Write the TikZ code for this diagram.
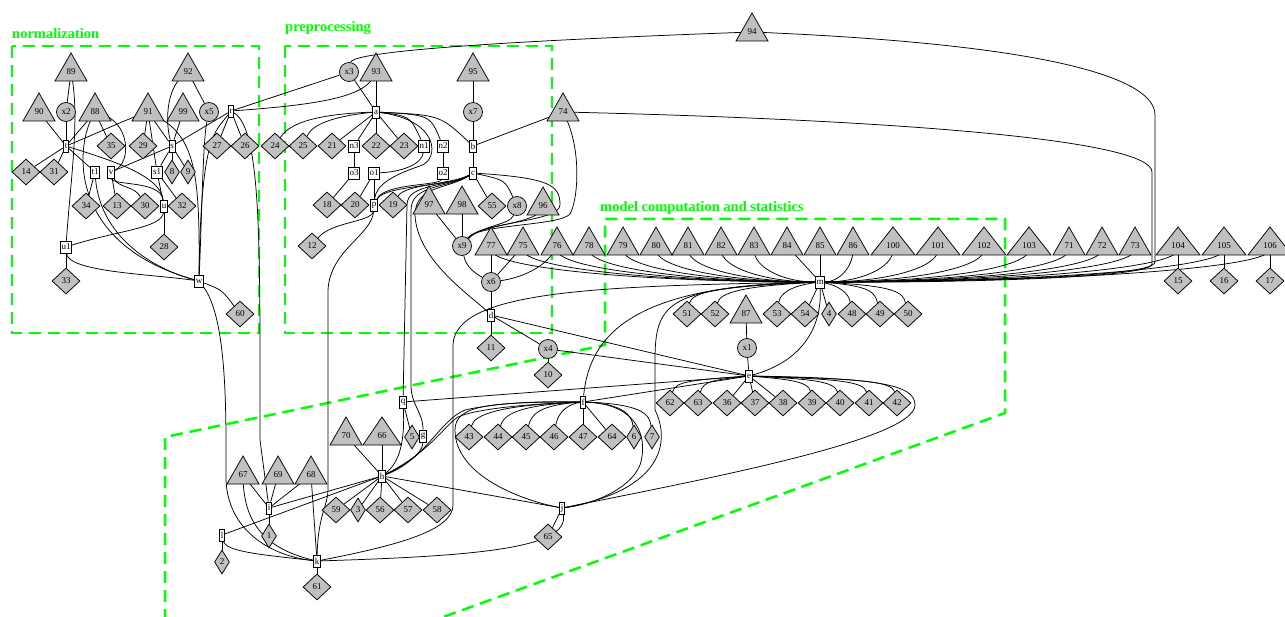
\documentclass[tikz,border=0pt]{standalone}
\usepackage{fontspec}
\setmainfont{Liberation Serif}
\usetikzlibrary{shapes.geometric}
\pgfdeclarelayer{under}
\pgfsetlayers{under,main}
\definecolor{nodegray}{RGB}{192,192,192}
\definecolor{clustergreen}{RGB}{0,255,0}
\newcommand\lblfont{\fontsize{9}{10}\selectfont}
% triangle node: name, x, y, text, half base width
\newcommand\trinode[5]{%
  \filldraw[trishape] (#2-#5,#3+9) -- (#2+#5,#3+9) -- (#2,#3-19) -- cycle;
  \node[lbl] (#1) at (#2,#3) {#4};}
\tikzset{
  trishape/.style={draw=black, fill=nodegray, line width=0.75pt, line join=miter},
  lbl/.style={inner sep=0.5pt, font=\lblfont},
  circ/.style={circle, draw, fill=nodegray, minimum size=19pt, inner sep=0pt, font=\lblfont, line width=0.75pt},
  dia/.style={diamond, draw, fill=nodegray, minimum width=28pt, minimum height=26pt, inner sep=0pt, font=\lblfont, line width=0.75pt},
  ndia/.style={dia, minimum width=15pt, minimum height=24pt},
  rectnode/.style={rectangle, draw, fill=white, minimum height=12pt, minimum width=5pt, inner sep=1.2pt, font=\lblfont, line width=0.75pt},
  conn/.style={draw=black, line width=0.75pt},
  cluster/.style={draw=clustergreen, line width=2.5pt, dash pattern=on 12pt off 7pt},
  cltitle/.style={text=clustergreen, font=\fontsize{14.5}{16}\selectfont\bfseries, anchor=base west, inner sep=0pt},
}
\begin{document}
\begin{tikzpicture}[x=1pt,y=-1pt]
\path[use as bounding box] (0,0) rectangle (1285,617);

% cluster titles
\node[cltitle] (tnorm) at (12,39) {normalization};
\node[cltitle] (tpre) at (285,32) {preprocessing};
\node[cltitle] (tmod) at (600,212) {model computation and statistics};

% ---------- normalization ----------
\trinode{N89}{71}{72}{89}{16}
\trinode{N92}{188}{72}{92}{16}
\trinode{N90}{39}{112}{90}{16}
\trinode{N88}{95}{112}{88}{16}
\trinode{N91}{148}{112}{91}{16}
\trinode{N99}{183}{112}{99}{16}
\node[circ] (x2) at (66,112) {x2};
\node[circ] (x5) at (209,112) {x5};
\node[rectnode] (r) at (231,111) {r};
\node[rectnode] (t) at (66,146) {t};
\node[dia] (N35) at (111,146) {35};
\node[dia] (N29) at (143,146) {29};
\node[rectnode] (s) at (172,146) {s};
\node[dia] (N27) at (217,146) {27};
\node[dia] (N26) at (245,146) {26};
\node[dia] (N24) at (275,146) {24};
\node[dia] (N14) at (26,172) {14};
\node[dia] (N31) at (54,172) {31};
\node[rectnode] (t1) at (95,172) {t1};
\node[rectnode] (v) at (111,172) {v};
\node[rectnode] (s1) at (157,172) {s1};
\node[ndia] (N8) at (172,172) {8};
\node[ndia] (N9) at (188,172) {9};
\node[dia] (N34) at (86,206) {34};
\node[dia] (N13) at (117,206) {13};
\node[dia] (N30) at (145,206) {30};
\node[rectnode] (u) at (164,206) {u};
\node[dia] (N32) at (182,206) {32};
\node[rectnode] (u1) at (66,247) {u1};
\node[dia] (N28) at (164,247) {28};
\node[dia] (N33) at (66,281) {33};
\node[rectnode] (w) at (199,281) {w};
\node[dia] (N60) at (240,314) {60};

% ---------- preprocessing ----------
\node[circ] (x3) at (349,72) {x3};
\trinode{N93}{376}{72}{93}{16}
\trinode{N95}{473}{72}{95}{16}
\node[circ] (x7) at (473,112) {x7};
\trinode{N74}{563}{112}{74}{16}
\node[rectnode] (a) at (376,112) {a};
\node[dia] (N25) at (303,146) {25};
\node[dia] (N21) at (332,146) {21};
\node[rectnode] (n3) at (354,146) {n3};
\node[dia] (N22) at (376,146) {22};
\node[dia] (N23) at (404,146) {23};
\node[rectnode] (n1) at (424,146) {n1};
\node[rectnode] (n2) at (443,146) {n2};
\node[rectnode] (b) at (473,146) {b};
\node[rectnode] (o3) at (354,173) {o3};
\node[rectnode] (o1) at (374,173) {o1};
\node[rectnode] (o2) at (443,173) {o2};
\node[rectnode] (c) at (473,173) {c};
\node[dia] (N18) at (327,205) {18};
\node[dia] (N20) at (355,205) {20};
\node[rectnode] (p) at (374,205) {p};
\node[dia] (N19) at (393,205) {19};
\trinode{N97}{429}{205}{97}{16}
\trinode{N98}{462}{205}{98}{16}
\node[dia] (N55) at (492,206) {55};
\node[circ] (x8) at (517,206) {x8};
\trinode{N96}{543}{206}{96}{16}
\node[dia] (N12) at (312,246) {12};
\node[circ] (x9) at (462,246) {x9};

% ---------- model computation and statistics ----------
\trinode{N94}{752}{32}{94}{16}
\trinode{N77}{491}{246}{77}{16}
\trinode{N75}{523}{246}{75}{16}
\trinode{N76}{557}{246}{76}{16}
\trinode{N78}{589}{246}{78}{16}
\trinode{N79}{623}{246}{79}{16}
\trinode{N80}{656}{246}{80}{16}
\trinode{N81}{688}{246}{81}{16}
\trinode{N82}{721}{246}{82}{16}
\trinode{N83}{754}{246}{83}{16}
\trinode{N84}{787}{246}{84}{16}
\trinode{N85}{820}{246}{85}{16}
\trinode{N86}{853}{246}{86}{16}
\trinode{N100}{893}{246}{100}{22}
\trinode{N101}{938}{246}{101}{22}
\trinode{N102}{984}{246}{102}{22}
\trinode{N103}{1029}{246}{103}{22}
\trinode{N71}{1069}{246}{71}{16}
\trinode{N72}{1102}{246}{72}{16}
\trinode{N73}{1135}{246}{73}{16}
\trinode{N104}{1178}{246}{104}{22}
\trinode{N105}{1224}{246}{105}{22}
\trinode{N106}{1270}{246}{106}{22}
\node[dia] (N15) at (1178,281) {15};
\node[dia] (N16) at (1224,281) {16};
\node[dia] (N17) at (1270,281) {17};
\node[circ] (x6) at (491,282) {x6};
\node[rectnode] (m) at (820,282) {m};
\node[rectnode] (d) at (491,315) {d};
\node[dia] (N11) at (491,348) {11};
\node[circ] (x4) at (548,349) {x4};
\node[dia] (N10) at (548,375) {10};
\node[dia] (N51) at (687,314) {51};
\node[dia] (N52) at (715,314) {52};
\trinode{N87}{746}{314}{87}{16}
\node[dia] (N53) at (777,314) {53};
\node[dia] (N54) at (805,314) {54};
\node[ndia] (N4) at (829,314) {4};
\node[dia] (N48) at (852,314) {48};
\node[dia] (N49) at (880,314) {49};
\node[dia] (N50) at (908,314) {50};
\node[circ] (x1) at (747,348) {x1};
\node[rectnode] (e) at (749,376) {e};
\node[dia] (N62) at (670,403) {62};
\node[dia] (N63) at (698,403) {63};
\node[dia] (N36) at (727,403) {36};
\node[dia] (N37) at (755,403) {37};
\node[dia] (N38) at (783,403) {38};
\node[dia] (N39) at (812,403) {39};
\node[dia] (N40) at (840,403) {40};
\node[dia] (N41) at (869,403) {41};
\node[dia] (N42) at (897,403) {42};
\node[rectnode] (f) at (583,402) {f};
\node[rectnode] (q) at (403,402) {q};
\node[ndia] (N5) at (412,437) {5};
\node[rectnode] (g) at (423,436) {g};
\node[dia] (N43) at (469,437) {43};
\node[dia] (N44) at (498,437) {44};
\node[dia] (N45) at (526,437) {45};
\node[dia] (N46) at (554,437) {46};
\node[dia] (N47) at (583,437) {47};
\node[dia] (N64) at (612,437) {64};
\node[ndia] (N6) at (634,437) {6};
\node[ndia] (N7) at (652,437) {7};
\node[rectnode] (j) at (562,508) {j};
\node[dia] (N65) at (548,537) {65};
\trinode{N70}{346}{436}{70}{16}
\trinode{N66}{382}{436}{66}{19}
\node[rectnode] (h) at (382,476) {h};
\trinode{N67}{243}{475}{67}{16}
\trinode{N69}{278}{475}{69}{16}
\trinode{N68}{311}{475}{68}{16}
\node[dia] (N59) at (336,510) {59};
\node[ndia] (N3) at (358,510) {3};
\node[dia] (N56) at (380,510) {56};
\node[dia] (N57) at (408,510) {57};
\node[dia] (N58) at (437,510) {58};
\node[rectnode] (i) at (269,508) {i};
\node[ndia] (N1) at (269,536) {1};
\node[rectnode] (l) at (222,535) {l};
\node[ndia] (N2) at (222,562) {2};
\node[rectnode] (k) at (317,561) {k};
\node[dia] (N61) at (317,587) {61};

\begin{pgfonlayer}{under}
% cluster frames
\draw[cluster] (12,46) rectangle (259,333);
\draw[cluster] (285,46) rectangle (552,333);
\begin{scope}
\clip (0,0) rectangle (1285,617);
\draw[cluster] (165,640) -- (165,437) -- (605,345) -- (605,219) -- (1005,219) -- (1005,413) -- (380,640);
\end{scope}

% normalization edges
\draw[conn] (N89) -- (x2);
\draw[conn] (N89) .. controls (80,120) and (70,185) .. (u1);
\draw[conn] (N90) -- (t);
\draw[conn] (x2) -- (t);
\draw[conn] (N88) -- (t);
\draw[conn] (N88) -- (N35);
\draw[conn] (N88) .. controls (74,150) and (70,245) .. (w);
\draw[conn] (N88) .. controls (130,122) and (132,162) .. (v);
\draw[conn] (t) -- (N14);
\draw[conn] (t) -- (N31);
\draw[conn] (t) -- (t1);
\draw[conn] (t) .. controls (100,132) and (125,120) .. (N91);
\draw[conn] (t) .. controls (110,160) and (160,175) .. (u);
\draw[conn] (t1) -- (N34);
\draw[conn] (t1) .. controls (100,235) and (150,268) .. (w);
\draw[conn] (N91) -- (N29);
\draw[conn] (N91) -- (s);
\draw[conn] (N91) -- (s1);
\draw[conn] (N91) .. controls (195,135) and (200,170) .. (w);
\draw[conn] (N99) -- (s);
\draw[conn] (N92) .. controls (165,90) and (166,125) .. (s);
\draw[conn] (N92) -- (x5);
\draw[conn] (x5) .. controls (203,140) and (202,210) .. (w);
\draw[conn] (r) .. controls (215,132) and (201,135) .. (w);
\draw[conn] (r) -- (s);
\draw[conn] (r) -- (N27);
\draw[conn] (r) -- (N26);
\draw[conn] (r) .. controls (262,130) and (260,250) .. (260,440) -- (i);
\draw[conn] (s) -- (N8);
\draw[conn] (s) -- (N9);
\draw[conn] (s) -- (v);
\draw[conn] (s) -- (s1);
\draw[conn] (s1) -- (u);
\draw[conn] (s1) -- (N32);
\draw[conn] (v) -- (N13);
\draw[conn] (v) .. controls (118,188) and (135,186) .. (N30);
\draw[conn] (v) .. controls (112,186) and (160,180) .. (u);
\draw[conn] (u) -- (N28);
\draw[conn] (u) .. controls (162,228) and (120,230) .. (u1);
\draw[conn] (u1) -- (N33);
\draw[conn] (u1) .. controls (68,272) and (150,274) .. (w);
\draw[conn] (w) .. controls (222,290) .. (N60);
\draw[conn] (w) .. controls (228,320) and (226,420) .. (226,480) .. controls (228,530) and (270,556) .. (k);

% preprocessing edges
\draw[conn] (x3) .. controls (352,55) and (420,44) .. (N94);
\draw[conn] (N94) .. controls (1060,45) and (1155,80) .. (1155,115) -- (1155,262) .. controls (1155,280) and (900,281) .. (m);
\draw[conn] (N74) .. controls (900,120) and (1152,140) .. (1152,172) -- (1152,264) .. controls (1152,280) and (900,283) .. (m);
\draw[conn] (x3) -- (r);
\draw[conn] (N93) .. controls (365,95) and (330,104) .. (r);
\draw[conn] (x3) -- (a);
\draw[conn] (N93) -- (a);
\draw[conn] (a) .. controls (320,114) and (290,122) .. (N24);
\draw[conn] (a) .. controls (335,116) and (312,124) .. (N25);
\draw[conn] (a) -- (N21);
\draw[conn] (a) -- (n3);
\draw[conn] (a) -- (N22);
\draw[conn] (a) -- (N23);
\draw[conn] (a) .. controls (410,116) .. (n1);
\draw[conn] (a) .. controls (430,115) .. (n2);
\draw[conn] (a) .. controls (440,115) .. (b);
\draw[conn] (a) .. controls (440,120) and (440,160) .. (420,166) .. controls (390,176) and (376,186) .. (p);
\draw[conn] (n1) .. controls (422,165) and (400,172) .. (o1);
\draw[conn] (n3) -- (o3);
\draw[conn] (o3) -- (N18);
\draw[conn] (o1) -- (N20);
\draw[conn] (o1) -- (p);
\draw[conn] (n2) -- (o2);
\draw[conn] (o2) .. controls (440,186) and (385,183) .. (p);
\draw[conn] (c) .. controls (455,186) and (385,185) .. (p);
\draw[conn] (c) .. controls (450,185) and (405,184) .. (N19);
\draw[conn] (c) .. controls (450,187) and (407,183) .. (407,205) -- (q);
\draw[conn] (c) .. controls (450,188) and (411,184) .. (411,210) -- (411,385) .. controls (411,405) and (423,412) .. (g);
\draw[conn] (c) .. controls (450,189) and (415,185) .. (415,215) .. controls (417,260) and (470,295) .. (d);
\draw[conn] (p) .. controls (372,222) and (330,222) .. (N12);
\draw[conn] (p) .. controls (372,235) and (330,250) .. (328,290) -- (328,490) .. controls (328,505) and (318,515) .. (k);
\draw[conn] (N95) -- (x7);
\draw[conn] (x7) -- (b);
\draw[conn] (b) -- (c);
\draw[conn] (b) -- (N74);
\draw[conn] (c) -- (N55);
\draw[conn] (c) .. controls (505,180) .. (x8);
\draw[conn] (c) .. controls (550,178) and (560,185) .. (560,205) .. controls (560,222) and (480,222) .. (x9);
\draw[conn] (N74) .. controls (582,150) and (578,200) .. (570,214) .. controls (560,226) and (478,224) .. (x9);
\draw[conn] (N96) .. controls (535,224) and (478,225) .. (x9);
\draw[conn] (x8) .. controls (510,225) and (480,226) .. (x9);
\draw[conn] (N97) -- (x9);
\draw[conn] (N98) -- (x9);
\draw[conn] (x9) .. controls (466,268) and (478,275) .. (x6);
\draw[conn] (N77) -- (x6);
\draw[conn] (N75) -- (x6);
\draw[conn] (N76) .. controls (545,268) and (520,278) .. (x6);
\draw[conn] (x6) -- (d);
\draw[conn] (d) -- (N11);
\draw[conn] (d) -- (x4);
\draw[conn] (d) -- (e);
\draw[conn] (x4) -- (N10);
\draw[conn] (x4) -- (e);

% model edges
\foreach \n/\k in {77/181,75/163,76/145,78/127,79/108,80/90,81/73,82/54,83/36}
  \draw[conn] (N\n) .. controls +(0,22) and +(-\k,0) .. (m);
\draw[conn] (N84) -- (m);
\draw[conn] (N85) -- (m);
\foreach \n/\k in {86/18,100/40,101/65,102/90,103/115,71/137,72/155,73/173,104/197,105/222,106/247}
  \draw[conn] (N\n) .. controls +(0,22) and +(\k,0) .. (m);
\draw[conn] (N104) -- (N15);
\draw[conn] (N105) -- (N16);
\draw[conn] (N106) -- (N17);
\draw[conn] (m) .. controls +(-100,4) and +(5,-22) .. (N51);
\draw[conn] (m) .. controls +(-75,4) and +(5,-22) .. (N52);
\draw[conn] (m) .. controls +(-30,4) and +(3,-20) .. (N53);
\draw[conn] (m) -- (N54);
\draw[conn] (m) -- (N4);
\draw[conn] (m) .. controls +(20,4) and +(-3,-20) .. (N48);
\draw[conn] (m) .. controls +(50,4) and +(-5,-22) .. (N49);
\draw[conn] (m) .. controls +(75,4) and +(-5,-22) .. (N50);
\draw[conn] (m) .. controls (822,330) and (800,362) .. (e);
\draw[conn] (m) .. controls (640,285) and (590,330) .. (f);
\draw[conn] (m) .. controls (670,288) and (655,300) .. (655,360) -- (655,410) .. controls (670,440) and (665,490) .. (j);
\draw[conn] (m) .. controls (600,286) and (455,290) .. (453,345) -- (453,505) .. controls (453,530) and (400,545) .. (k);
\draw[conn] (N87) -- (x1);
\draw[conn] (x1) -- (e);
\draw[conn] (e) .. controls +(-55,4) and +(5,-22) .. (N62);
\draw[conn] (e) .. controls +(-35,4) and +(5,-22) .. (N63);
\draw[conn] (e) -- (N36);
\draw[conn] (e) -- (N37);
\draw[conn] (e) -- (N38);
\draw[conn] (e) .. controls +(35,3) and +(-3,-22) .. (N39);
\draw[conn] (e) .. controls +(60,3) and +(-5,-22) .. (N40);
\draw[conn] (e) .. controls +(85,3) and +(-5,-22) .. (N41);
\draw[conn] (e) .. controls +(110,3) and +(-5,-22) .. (N42);
\draw[conn] (e) -- (f);
\draw[conn] (e) -- (q);
\draw[conn] (e) .. controls (880,378) and (915,385) .. (915,405) .. controls (915,440) and (700,480) .. (j);
\draw[conn] (f) .. controls +(-85,3) and +(5,-22) .. (N43);
\draw[conn] (f) .. controls +(-65,3) and +(5,-22) .. (N44);
\draw[conn] (f) .. controls +(-45,3) and +(5,-22) .. (N45);
\draw[conn] (f) .. controls +(-20,3) and +(3,-20) .. (N46);
\draw[conn] (f) -- (N47);
\draw[conn] (f) -- (N64);
\draw[conn] (f) .. controls +(40,2) and +(-2,-22) .. (N6);
\draw[conn] (f) .. controls +(60,2) and +(-2,-22) .. (N7);
\draw[conn] (f) .. controls (490,402) and (455,405) .. (455,430) .. controls (455,475) and (520,500) .. (j);
\draw[conn] (f) .. controls (640,404) and (648,440) .. (640,465) .. controls (630,490) and (590,505) .. (j);
\draw[conn] (q) -- (N5);
\draw[conn] (q) .. controls (405,440) and (400,462) .. (h);
\draw[conn] (g) .. controls (423,455) and (400,468) .. (h);
\draw[conn] (h) .. controls (425,460) and (440,420) .. (465,410) .. controls (500,402) and (550,401) .. (f);
\draw[conn] (h) .. controls (430,452) and (445,425) .. (458,417) .. controls (480,407) and (550,403) .. (f);
\draw[conn] (N70) -- (h);
\draw[conn] (N66) -- (h);
\draw[conn] (h) -- (N59);
\draw[conn] (h) -- (N3);
\draw[conn] (h) -- (N56);
\draw[conn] (h) -- (N57);
\draw[conn] (h) -- (N58);
\draw[conn] (h) -- (i);
\draw[conn] (h) -- (l);
\draw[conn] (h) -- (j);
\draw[conn] (N67) -- (i);
\draw[conn] (N69) -- (i);
\draw[conn] (N68) -- (i);
\draw[conn] (i) -- (N1);
\draw[conn] (l) -- (N2);
\draw[conn] (l) .. controls (226,552) and (265,555) .. (k);
\draw[conn] (N67) .. controls (244,520) and (262,548) .. (k);
\draw[conn] (N68) -- (k);
\draw[conn] (j) -- (N65);
\draw[conn] (j) .. controls (570,548) and (480,556) .. (k);
\draw[conn] (k) -- (N61);
\end{pgfonlayer}
\end{tikzpicture}
\end{document}
